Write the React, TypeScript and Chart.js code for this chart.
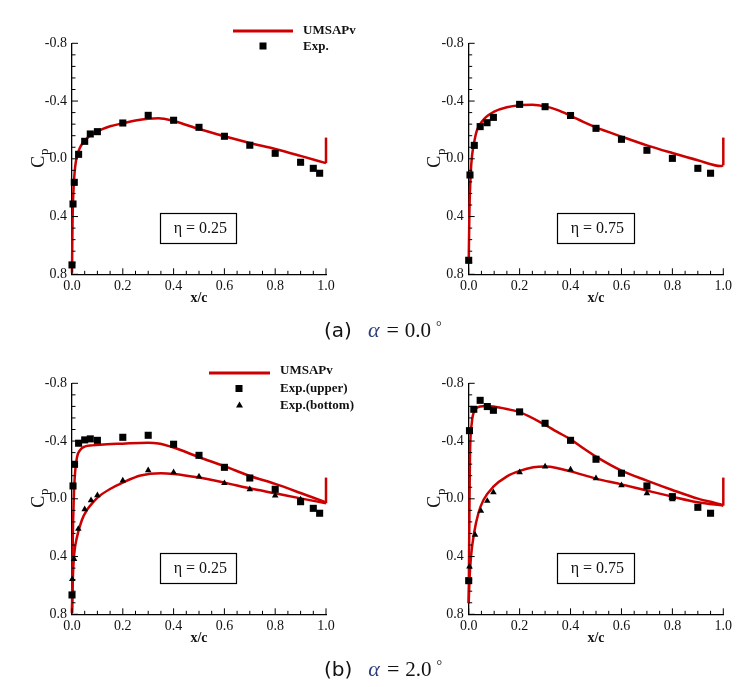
import React, { useEffect, useRef } from 'react';
import { Chart, registerables } from 'chart.js';
Chart.register(...registerables);

const SERIF = "'Liberation Serif', 'Times New Roman', serif";
const RED = 'rgb(204,0,0)';

const X_TICKS = [0, 0.2, 0.4, 0.6, 0.8, 1.0];
const Y_TICKS = [-0.8, -0.4, 0, 0.4, 0.8];

// (a) alpha = 0, eta = 0.25
const a25ExpX = [0.0, 0.004, 0.009, 0.026, 0.05, 0.072, 0.1, 0.2, 0.3, 0.4, 0.5, 0.6, 0.7, 0.8, 0.9, 0.95, 0.975];
const a25ExpCp = [0.735, 0.313, 0.163, -0.031, -0.121, -0.172, -0.188, -0.248, -0.301, -0.267, -0.218, -0.156, -0.094, -0.038, 0.024, 0.066, 0.1];
const a25LineX = [0, 0.002, 0.005, 0.01, 0.017, 0.025, 0.035, 0.05, 0.07, 0.1, 0.15, 0.2, 0.25, 0.3, 0.34, 0.4, 0.5, 0.6, 0.7, 0.8, 0.9, 1.0];
const a25LineCp = [0.79, 0.45, 0.25, 0.1, 0.0, -0.05, -0.09, -0.125, -0.16, -0.19, -0.225, -0.246, -0.266, -0.278, -0.281, -0.262, -0.206, -0.156, -0.11, -0.068, -0.02, 0.03];
const a25TeX = [1.0, 1.0];
const a25TeCp = [0.03, -0.147];

// (a) alpha = 0, eta = 0.75
const a75ExpX = [0.0, 0.005, 0.022, 0.045, 0.072, 0.097, 0.2, 0.3, 0.4, 0.5, 0.6, 0.7, 0.8, 0.9, 0.95];
const a75ExpCp = [0.703, 0.112, -0.093, -0.223, -0.25, -0.287, -0.377, -0.361, -0.3, -0.211, -0.135, -0.059, -0.003, 0.066, 0.1];
const a75LineX = [0, 0.003, 0.008, 0.013, 0.02, 0.031, 0.045, 0.06, 0.08, 0.1, 0.15, 0.2, 0.25, 0.3, 0.35, 0.4, 0.45, 0.5, 0.6, 0.7, 0.8, 0.9, 0.99, 1.0];
const a75LineCp = [0.72, 0.35, 0.1, -0.02, -0.1, -0.19, -0.24, -0.275, -0.305, -0.327, -0.357, -0.371, -0.374, -0.363, -0.337, -0.298, -0.256, -0.218, -0.154, -0.093, -0.04, 0.01, 0.05, 0.045];
const a75TeX = [1.0, 1.0];
const a75TeCp = [0.045, -0.147];

// (b) alpha = 2, eta = 0.25
const b25UpX = [0.0, 0.004, 0.01, 0.026, 0.05, 0.072, 0.1, 0.2, 0.3, 0.4, 0.5, 0.6, 0.7, 0.8, 0.9, 0.95, 0.975];
const b25UpCp = [0.666, -0.089, -0.239, -0.385, -0.408, -0.415, -0.405, -0.426, -0.44, -0.378, -0.301, -0.218, -0.144, -0.066, 0.02, 0.066, 0.1];
const b25LoX = [0.001, 0.008, 0.025, 0.05, 0.075, 0.1, 0.2, 0.3, 0.4, 0.5, 0.6, 0.7, 0.8, 0.9];
const b25LoCp = [0.557, 0.417, 0.209, 0.073, 0.01, -0.024, -0.126, -0.197, -0.184, -0.154, -0.108, -0.066, -0.022, 0.005];
const b25LineUpX = [0, 0.003, 0.007, 0.012, 0.02, 0.033, 0.05, 0.08, 0.11, 0.2, 0.3, 0.34, 0.4, 0.5, 0.6, 0.7, 0.8, 0.9, 1.0];
const b25LineUpCp = [0.79, 0.285, 0.0, -0.18, -0.29, -0.34, -0.362, -0.37, -0.375, -0.382, -0.388, -0.383, -0.355, -0.288, -0.226, -0.158, -0.103, -0.04, 0.025];
const b25LineLoX = [0, 0.004, 0.009, 0.02, 0.039, 0.059, 0.085, 0.11, 0.15, 0.2, 0.27, 0.35, 0.4, 0.5, 0.6, 0.7, 0.8, 0.9, 1.0];
const b25LineLoCp = [0.79, 0.516, 0.378, 0.262, 0.147, 0.077, 0.02, -0.022, -0.068, -0.112, -0.161, -0.177, -0.172, -0.147, -0.112, -0.073, -0.038, -0.003, 0.031];
const b25TeX = [1.0, 1.0];
const b25TeCp = [0.031, -0.147];

// (b) alpha = 2, eta = 0.75
const b75UpX = [0.0, 0.003, 0.02, 0.045, 0.073, 0.097, 0.2, 0.3, 0.4, 0.5, 0.6, 0.7, 0.8, 0.9, 0.95];
const b75UpCp = [0.567, -0.472, -0.62, -0.682, -0.639, -0.613, -0.602, -0.523, -0.405, -0.274, -0.177, -0.089, -0.015, 0.059, 0.1];
const b75LoX = [0.003, 0.025, 0.048, 0.073, 0.097, 0.2, 0.3, 0.4, 0.5, 0.6, 0.7, 0.8];
const b75LoCp = [0.47, 0.25, 0.084, 0.015, -0.045, -0.184, -0.223, -0.202, -0.142, -0.093, -0.038, 0.003];
const b75LineUpX = [0, 0.003, 0.005, 0.012, 0.025, 0.045, 0.071, 0.097, 0.149, 0.2, 0.3, 0.346, 0.4, 0.45, 0.5, 0.6, 0.7, 0.8, 0.9, 0.987, 1.0];
const b75LineUpCp = [0.724, 0.054, -0.292, -0.523, -0.615, -0.639, -0.643, -0.639, -0.622, -0.6, -0.512, -0.465, -0.412, -0.35, -0.292, -0.195, -0.126, -0.061, -0.001, 0.038, 0.047];
const b75LineLoX = [0, 0.003, 0.009, 0.021, 0.038, 0.058, 0.097, 0.149, 0.2, 0.254, 0.3, 0.346, 0.4, 0.5, 0.6, 0.7, 0.8, 0.9, 1.0];
const b75LineLoCp = [0.724, 0.562, 0.4, 0.239, 0.1, 0.008, -0.084, -0.154, -0.193, -0.218, -0.223, -0.214, -0.19, -0.14, -0.1, -0.057, -0.015, 0.024, 0.047];
const b75TeX = [1.0, 1.0];
const b75TeCp = [0.047, -0.147];

const ETA_BOX_X = [0.347, 0.648];
const ETA_BOX_CP = [0.375, 0.583];

const pts = (xs: number[], ys: number[]) => xs.map((x, i) => ({ x, y: ys[i] }));

const lineDs = (xs: number[], ys: number[]) => ({
  data: pts(xs, ys),
  showLine: true,
  borderColor: RED,
  backgroundColor: RED,
  borderWidth: 2.5,
  pointRadius: 0,
  cubicInterpolationMode: 'monotone',
  clip: false,
});
const squareDs = (xs: number[], ys: number[]) => ({
  data: pts(xs, ys),
  showLine: false,
  pointStyle: 'rect',
  pointRadius: 5,
  pointBackgroundColor: '#000',
  pointBorderColor: '#000',
  pointBorderWidth: 0,
  clip: false,
});
const triDs = (xs: number[], ys: number[]) => ({
  data: pts(xs, ys),
  showLine: false,
  pointStyle: 'triangle',
  pointRadius: 3.8,
  pointBackgroundColor: '#000',
  pointBorderColor: '#000',
  pointBorderWidth: 0,
  clip: false,
});

const decorPlugin = {
  id: 'decor',
  afterDraw(chart: any, _args: any, opts: any) {
    const ctx = chart.ctx;
    const xs = chart.scales.x;
    const ys = chart.scales.y;
    const { left, right, top, bottom } = chart.chartArea;
    ctx.save();
    ctx.strokeStyle = '#000';
    ctx.lineWidth = 1;
    // inward ticks on y
    for (let i = 0; i <= 20; i++) {
      const v = Y_TICKS[0] + (i * (Y_TICKS[Y_TICKS.length - 1] - Y_TICKS[0])) / 20;
      const py = ys.getPixelForValue(v);
      const len = i % 5 === 0 ? 6 : 3.5;
      ctx.beginPath();
      ctx.moveTo(left, py);
      ctx.lineTo(left + len, py);
      ctx.stroke();
    }
    // inward ticks on x
    for (let i = 0; i <= 20; i++) {
      const v = (i * X_TICKS[X_TICKS.length - 1]) / 20;
      const px = xs.getPixelForValue(v);
      const len = i % 4 === 0 ? 6 : 3.5;
      ctx.beginPath();
      ctx.moveTo(px, bottom);
      ctx.lineTo(px, bottom - len);
      ctx.stroke();
    }
    // eta box
    const bx0 = xs.getPixelForValue(ETA_BOX_X[0]);
    const bx1 = xs.getPixelForValue(ETA_BOX_X[1]);
    const by0 = ys.getPixelForValue(ETA_BOX_CP[0]);
    const by1 = ys.getPixelForValue(ETA_BOX_CP[1]);
    ctx.lineWidth = 1.2;
    ctx.strokeRect(Math.round(bx0) + 0.5, Math.round(by0) + 0.5, Math.round(bx1 - bx0), Math.round(by1 - by0));
    ctx.fillStyle = '#111';
    ctx.font = `16px ${SERIF}`;
    ctx.textAlign = 'center';
    ctx.textBaseline = 'middle';
    ctx.fillText(opts.eta, (bx0 + bx1) / 2 + 2, (by0 + by1) / 2 + 1);

    // axis titles
    ctx.font = `bold 14px ${SERIF}`;
    ctx.fillText('x/c', (left + right) / 2, bottom + 24);
    ctx.save();
    ctx.translate(left - 33, (top + bottom) / 2 + 3);
    ctx.rotate(-Math.PI / 2);
    ctx.font = `18px ${SERIF}`;
    ctx.fillText('C', 0, 0);
    ctx.font = `13px ${SERIF}`;
    ctx.fillText('p', 10, 6);
    ctx.restore();

    // legend
    ctx.textAlign = 'left';
    ctx.font = `bold 13px ${SERIF}`;
    if (opts.legend === 'a') {
      ctx.strokeStyle = RED;
      ctx.lineWidth = 3;
      ctx.beginPath();
      ctx.moveTo(233, 31);
      ctx.lineTo(293, 31);
      ctx.stroke();
      ctx.fillText('UMSAPv', 303, 30.5);
      ctx.fillStyle = '#000';
      ctx.fillRect(259.5, 42.5, 7, 7);
      ctx.fillStyle = '#111';
      ctx.fillText('Exp.', 303, 47);
    } else if (opts.legend === 'b') {
      ctx.strokeStyle = RED;
      ctx.lineWidth = 3;
      ctx.beginPath();
      ctx.moveTo(209, 33);
      ctx.lineTo(270, 33);
      ctx.stroke();
      ctx.fillText('UMSAPv', 280, 30.5);
      ctx.fillStyle = '#000';
      ctx.fillRect(235.5, 45, 7, 7);
      ctx.beginPath();
      ctx.moveTo(239.5, 61.5);
      ctx.lineTo(243, 67.5);
      ctx.lineTo(236, 67.5);
      ctx.closePath();
      ctx.fill();
      ctx.fillStyle = '#111';
      ctx.fillText('Exp.(upper)', 280, 48.5);
      ctx.fillText('Exp.(bottom)', 280, 66);
    }
    ctx.restore();
  },
};

type PanelProps = {
  left: number;
  top: number;
  width: number;
  height: number;
  area: { l: number; t: number; r: number; b: number };
  datasets: any[];
  eta: string;
  legend: string;
};

const X_AXIS_H = 24;

function Panel({ left, top, width, height, area, datasets, eta, legend }: PanelProps) {
  const ref = useRef<HTMLCanvasElement>(null);
  useEffect(() => {
    if (!ref.current) return;
    const fmt = (v: any) => {
      const n = Number(v);
      return Math.abs(n) < 1e-9 ? '0.0' : n.toFixed(1);
    };
    const chart = new Chart(ref.current, {
      type: 'scatter',
      data: { datasets },
      options: {
        animation: false,
        responsive: false,
        events: [],
        layout: {
          padding: {
            left: 0,
            top: area.t,
            right: width - area.r,
            bottom: height - area.b - X_AXIS_H,
          },
        },
        plugins: {
          legend: { display: false },
          tooltip: { enabled: false },
          decor: { eta, legend },
        } as any,
        scales: {
          x: {
            type: 'linear',
            min: 0,
            max: 1,
            afterBuildTicks: (s: any) => {
              s.ticks = X_TICKS.map((v) => ({ value: v }));
            },
            afterFit: (s: any) => {
              s.height = X_AXIS_H;
            },
            grid: { display: false, drawTicks: false },
            border: { display: true, color: '#000', width: 1.3 },
            ticks: {
              callback: fmt,
              color: '#111',
              padding: 4,
              maxRotation: 0,
              autoSkip: false,
              font: { family: SERIF, size: 14 },
            },
          },
          y: {
            type: 'linear',
            min: -0.8,
            max: 0.8,
            reverse: true,
            afterBuildTicks: (s: any) => {
              s.ticks = Y_TICKS.map((v) => ({ value: v }));
            },
            afterFit: (s: any) => {
              s.width = area.l;
            },
            grid: { display: false, drawTicks: false },
            border: { display: true, color: '#000', width: 1.3 },
            ticks: {
              callback: fmt,
              color: '#111',
              padding: 5,
              autoSkip: false,
              font: { family: SERIF, size: 14 },
            },
          },
        },
      } as any,
      plugins: [decorPlugin],
    });
    return () => chart.destroy();
  }, []);
  return (
    <canvas
      ref={ref}
      width={width}
      height={height}
      style={{ position: 'absolute', left, top, width, height }}
    />
  );
}

function Caption({ top, tag, value }: { top: number; tag: string; value: string }) {
  return (
    <div
      style={{
        position: 'absolute',
        left: 324,
        top,
        whiteSpace: 'pre',
        lineHeight: '26px',
        color: '#111',
      }}
    >
      <span style={{ fontFamily: "'DejaVu Sans', sans-serif", fontSize: 20 }}>{tag}</span>
      <span style={{ fontFamily: SERIF, fontStyle: 'italic', fontSize: 22, color: '#2c3f7c', marginLeft: 16 }}>α</span>
      <span style={{ fontFamily: SERIF, fontSize: 22, marginLeft: 7 }}>=</span>
      <span style={{ fontFamily: SERIF, fontSize: 21, marginLeft: 6 }}>{value}</span>
      <span style={{ fontFamily: SERIF, fontSize: 14, marginLeft: 5, verticalAlign: '6px' }}>°</span>
    </div>
  );
}

export default function App() {
  const L = { l: 72, t: 43.3, r: 326, b: 274.3 };
  const R = { l: 95.7, t: 43.3, r: 350.3, b: 274.3 };
  return (
    <div style={{ position: 'absolute', left: 0, top: 0, width: 747, height: 687, background: '#fff' }}>
      <Panel
        left={0}
        top={0}
        width={373}
        height={340}
        area={L}
        eta="η = 0.25"
        legend="a"
        datasets={[squareDs(a25ExpX, a25ExpCp), lineDs(a25LineX, a25LineCp), lineDs(a25TeX, a25TeCp)]}
      />
      <Panel
        left={373}
        top={0}
        width={374}
        height={340}
        area={R}
        eta="η = 0.75"
        legend=""
        datasets={[squareDs(a75ExpX, a75ExpCp), lineDs(a75LineX, a75LineCp), lineDs(a75TeX, a75TeCp)]}
      />
      <Panel
        left={0}
        top={340}
        width={373}
        height={347}
        area={L}
        eta="η = 0.25"
        legend="b"
        datasets={[
          squareDs(b25UpX, b25UpCp),
          triDs(b25LoX, b25LoCp),
          lineDs(b25LineUpX, b25LineUpCp),
          lineDs(b25LineLoX, b25LineLoCp),
          lineDs(b25TeX, b25TeCp),
        ]}
      />
      <Panel
        left={373}
        top={340}
        width={374}
        height={347}
        area={R}
        eta="η = 0.75"
        legend=""
        datasets={[
          squareDs(b75UpX, b75UpCp),
          triDs(b75LoX, b75LoCp),
          lineDs(b75LineUpX, b75LineUpCp),
          lineDs(b75LineLoX, b75LineLoCp),
          lineDs(b75TeX, b75TeCp),
        ]}
      />
      <Caption top={314} tag="(a)" value="0.0" />
      <Caption top={653} tag="(b)" value="2.0" />
    </div>
  );
}
